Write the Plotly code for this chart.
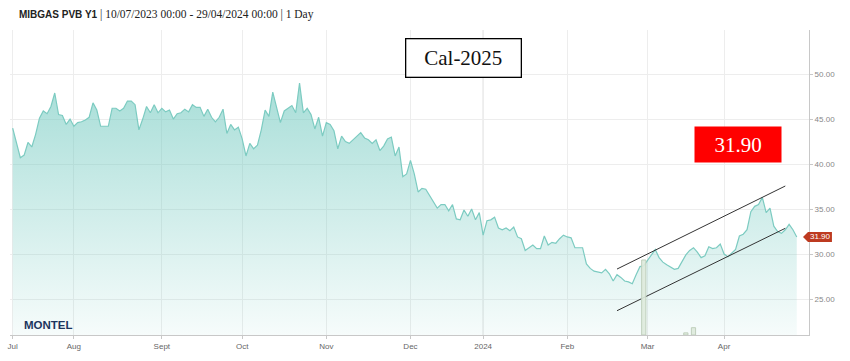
import pandas as pd
import plotly.graph_objects as go

# ---------------- data ----------------
title_main = "MIBGAS PVB Y1"
contract_label = "Cal-2025"
start_date = "2023-07-10"
end_date = "2024-04-29"
holidays = ["2023-12-25", "2023-12-26", "2024-01-01", "2024-03-29", "2024-04-01"]

price = [
    44.0, 42.3, 40.7, 41.0, 42.4, 41.9, 43.3, 45.1, 45.9, 45.6,
    46.4, 47.9, 45.5, 45.4, 44.4, 45.0, 44.2, 44.6, 44.7, 44.9,
    45.2, 46.8, 46.0, 44.2, 44.2, 44.2, 46.2, 46.2, 45.9, 46.2,
    47.0, 47.0, 46.6, 43.8, 45.0, 46.4, 45.7, 46.6, 45.7, 46.2,
    45.8, 46.0, 45.0, 45.6, 45.7, 46.1, 45.8, 46.6, 46.3, 46.3,
    45.3, 46.1,
    45.2, 44.7, 45.2, 46.1, 43.4, 44.4, 43.8, 44.1,
    42.8, 40.9, 42.3, 41.7, 42.1, 43.8, 46.0, 45.3, 48.0, 46.4,
    44.6, 45.9, 46.2, 46.5, 45.7, 49.0, 45.7, 46.2, 45.5, 43.9,
    45.2, 43.1, 44.6, 44.4, 43.7, 41.7, 43.1, 42.5, 42.3, 42.7,
    43.1, 43.5, 42.9, 42.7, 42.3, 42.7, 41.5, 42.0, 42.8, 43.0,
    40.9, 41.9, 38.6, 38.9,
    40.4, 38.9, 36.9, 37.3, 37.2, 36.5,
    35.7, 35.1, 35.5, 35.5, 34.8, 35.5, 33.9, 33.8, 34.9, 34.2,
    35.0, 33.8, 34.6, 32.1, 33.7, 33.8, 34.1, 32.9, 32.7, 32.9,
    32.6, 33.0, 31.9, 31.7, 30.4, 30.7, 31.0, 30.6, 30.6, 32.0,
    31.0, 31.3, 31.2, 31.7, 32.1, 31.9, 31.8, 30.7, 30.7, 30.7,
    28.9, 28.4, 28.1,
    28.0, 27.9, 28.3, 27.8, 27.0, 27.7, 27.4,
    27.0, 26.9, 26.7, 27.7, 28.6, 28.7, 29.3, 30.0, 30.5, 29.6,
    29.1, 28.8, 28.5, 28.3, 28.4, 29.2, 29.9, 30.4, 30.7, 30.2,
    29.6, 29.8, 30.8, 30.6, 30.7, 31.1, 30.0, 29.7, 30.1, 30.5,
    32.0, 32.2, 32.7, 34.7, 35.3, 35.5, 36.3, 34.6, 35.1, 33.1,
    32.5, 32.3, 32.7, 33.3, 32.7, 31.90,
]

month_starts = ["2023-07-01", "2023-08-01", "2023-09-01", "2023-10-01", "2023-11-01",
                "2023-12-01", "2024-01-01", "2024-02-01", "2024-03-01", "2024-04-01"]
month_labels = ["Jul", "Aug", "Sept", "Oct", "Nov", "Dec", "2024", "Feb", "Mar", "Apr"]

vol_dates = ["2024-02-29", "2024-03-15", "2024-03-19"]
vol_values = [24.6, 0.7, 2.4]

upper_channel_dates = ["2024-02-20", "2024-04-24"]
upper_channel_values = [28.33, 37.56]
lower_channel_dates = ["2024-02-20", "2024-04-24"]
lower_channel_values = [23.70, 32.86]

y_ticks = [25, 30, 35, 40, 45, 50]

# ---------------- build ----------------
dates = pd.bdate_range(start_date, end_date)
dates = dates[~dates.isin(pd.to_datetime(holidays))]
n = min(len(dates), len(price))
dates = dates[:n]
price = price[:n]
idx = list(range(n))
pos = {d.strftime("%Y-%m-%d"): i for i, d in enumerate(dates)}
tickvals = [int(dates.searchsorted(pd.Timestamp(m))) for m in month_starts]

Y0, Y1 = 21.0, 54.9
X0, X1 = -0.7, 208.2
last = price[-1]

fig = go.Figure()

fig.add_trace(go.Scatter(
    x=idx, y=price, mode="lines",
    line=dict(color="#7ccbc1", width=1.2),
    fill="tozeroy",
    fillgradient=dict(type="vertical",
                      colorscale=[[0, "rgba(110,200,190,0.06)"], [1, "rgba(110,200,190,0.6)"]],
                      start=Y0, stop=max(price)),
    hoverinfo="skip",
))

fig.add_trace(go.Bar(
    x=[pos[d] for d in vol_dates], y=vol_values, yaxis="y2", width=1.1,
    marker=dict(color="rgba(222,234,220,0.9)", line=dict(color="#bfcfbc", width=1)),
    hoverinfo="skip",
))

for dts, vals in [(upper_channel_dates, upper_channel_values),
                  (lower_channel_dates, lower_channel_values)]:
    fig.add_trace(go.Scatter(
        x=[pos[d] for d in dts], y=vals, mode="lines",
        line=dict(color="#333333", width=1), hoverinfo="skip",
    ))

# year separator line
fig.add_shape(type="line", xref="x", yref="paper",
              x0=tickvals[6], x1=tickvals[6], y0=0, y1=1,
              line=dict(color="#d6d6d6", width=1), layer="below")

# last-price flag on the axis
def py(v):
    return (v - Y0) / (Y1 - Y0)

def px(p):
    return (p - 8) / 801.0

h = 5.0 / 305.0
yc = py(last)
flag = (f"M {px(803)},{yc} L {px(808)},{yc + h} L {px(832)},{yc + h} "
        f"L {px(832)},{yc - h} L {px(808)},{yc - h} Z")
fig.add_shape(type="path", xref="paper", yref="paper", path=flag,
              fillcolor="#bd3a20", line=dict(width=0), layer="above")

annotations = [
    dict(xref="paper", yref="paper", x=px(15), y=1 + 15 / 305.0,
         xanchor="left", yanchor="middle", showarrow=False,
         text=(f"<b>{title_main}</b> <span style=\"font-family:'Liberation Serif';font-size:11.5px;\">"
               f"| {dates[0]:%d/%m/%Y} 00:00 - {dates[-1]:%d/%m/%Y} 00:00 | 1 Day</span>"),
         font=dict(family="Liberation Sans, Arial", size=10, color="#222222")),
    dict(xref="paper", yref="paper", x=px(462.5), y=(335 - 58) / 305.0,
         xanchor="center", yanchor="middle", showarrow=False,
         text=contract_label, width=112, height=35, borderpad=1,
         bgcolor="white", bordercolor="black", borderwidth=1.3,
         font=dict(family="Liberation Serif", size=21, color="#111111")),
    dict(xref="paper", yref="paper", x=px(738), y=(335 - 144.5) / 305.0,
         xanchor="center", yanchor="middle", showarrow=False,
         text=f"{last:.2f}", width=84, height=33, borderpad=1,
         bgcolor="#ff0000",
         font=dict(family="Liberation Serif", size=21, color="white")),
    dict(xref="paper", yref="y", x=px(820.5), y=last,
         xanchor="center", yanchor="middle", showarrow=False,
         text=f"{last:.2f}",
         font=dict(family="Liberation Sans, Arial", size=8, color="white")),
    dict(xref="paper", yref="paper", x=px(20), y=(335 - 325) / 305.0,
         xanchor="left", yanchor="middle", showarrow=False,
         text="<b>MONTEL</b>",
         font=dict(family="Liberation Sans, Arial", size=11.5, color="#1c355e")),
]

fig.update_layout(
    width=850, height=361,
    margin=dict(l=8, r=41, t=30, b=26),
    paper_bgcolor="white", plot_bgcolor="white",
    showlegend=False, hovermode=False,
    annotations=annotations,
    xaxis=dict(range=[X0, X1], tickvals=tickvals, ticktext=month_labels,
               showgrid=True, gridcolor="#ededed", gridwidth=1,
               showline=True, linecolor="#c8c8c8", linewidth=1,
               ticks="outside", ticklen=3, tickcolor="#c8c8c8",
               zeroline=False,
               tickfont=dict(family="Liberation Sans, Arial", size=8, color="#666666")),
    yaxis=dict(range=[Y0, Y1], side="right", tickvals=y_ticks, tickformat=".2f",
               showgrid=True, gridcolor="#ededed", gridwidth=1,
               showline=True, linecolor="#c8c8c8", linewidth=1,
               ticks="outside", ticklen=3, tickcolor="#c8c8c8",
               zeroline=False,
               tickfont=dict(family="Liberation Sans, Arial", size=8, color="#888888")),
    yaxis2=dict(range=[0, 100], overlaying="y", visible=False),
)

fig.write_html("out.html",
               config={"displayModeBar": False},
               post_script="document.body.style.margin='0';document.body.style.padding='0';")
